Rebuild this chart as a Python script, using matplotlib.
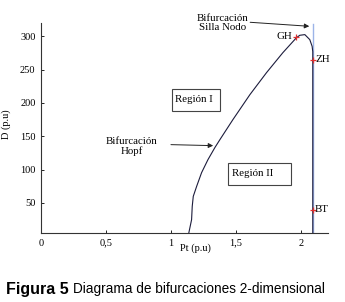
import matplotlib.pyplot as plt
from matplotlib.patches import Rectangle

plt.rcParams["font.family"] = ["Liberation Serif", "DejaVu Serif"]

# bifurcation curve (Hopf branch up to the saddle-node fold and back down)
pt_curve = [1.138, 1.159, 1.164, 1.172, 1.198, 1.236, 1.285, 1.338, 1.377, 1.477,
            1.608, 1.736, 1.862, 1.967, 1.992, 2.031, 2.069, 2.087, 2.092, 2.092, 2.092]
d_curve = [5.5, 25, 45, 60, 75, 95.5, 115, 133, 145, 175,
           212.5, 245.5, 275.5, 298, 301.5, 302.5, 295, 285, 277, 150, 5]

# saddle-node line
sn_pt = [2.095, 2.095]
sn_d = [5, 318]

# special points
pt_names = ["GH", "ZH", "BT"]
pt_x = [1.965, 2.09, 2.09]
pt_y = [299, 265, 40]

xticks = [0, 0.5, 1, 1.5, 2]
xticklabels = ["0", "0,5", "1", "1,5", "2"]
yticks = [50, 100, 150, 200, 250, 300]

fig = plt.figure(figsize=(3.45, 3.02), dpi=100)
ax = fig.add_axes([0.119, 0.2285, 0.832, 0.6955])

ax.plot(sn_pt, sn_d, color="#9db4e8", lw=1.0)
ax.plot(pt_curve, d_curve, color="#1c1c3c", lw=0.8)
ax.plot(pt_x, pt_y, "+", color="#e03030", ms=4, mew=0.9, ls="none")

ax.text(pt_x[0] - 0.03, pt_y[0], pt_names[0], ha="right", va="center", fontsize=7.8)
ax.text(pt_x[1] + 0.02, pt_y[1], pt_names[1], ha="left", va="center", fontsize=7.8)
ax.text(pt_x[2] + 0.02, pt_y[2], pt_names[2], ha="left", va="center", fontsize=7.8)

ax.set_xlim(0, 2.21)
ax.set_ylim(5, 320)
ax.set_xticks(xticks)
ax.set_xticklabels(xticklabels)
ax.set_yticks(yticks)
ax.tick_params(direction="in", length=2.5, width=0.6, labelsize=7.5, pad=4)
for s in ["top", "right"]:
    ax.spines[s].set_visible(False)
for s in ["left", "bottom"]:
    ax.spines[s].set_linewidth(0.8)
    ax.spines[s].set_color("#333333")

ax.set_ylabel("D (p.u)", fontsize=7.5)
ax.yaxis.set_label_coords(-0.105, 0.52)
ax.set_xlabel("Pt (p.u)", fontsize=7.5)
ax.xaxis.set_label_coords(0.538, -0.05)

# region boxes
ax.add_patch(Rectangle((1.008, 188.5), 0.369, 33, fill=False, lw=0.8, ec="#444444"))
ax.text(1.03, 205, "Región I", ha="left", va="center", fontsize=7.8)
ax.add_patch(Rectangle((1.438, 77.5), 0.485, 33, fill=False, lw=0.8, ec="#444444"))
ax.text(1.47, 94, "Región II", ha="left", va="center", fontsize=7.8)

# annotations
ax.text(1.396, 320.5, "Bifurcación\nSilla Nodo", ha="center", va="center",
        fontsize=7.8, linespacing=1.0, clip_on=False)
ax.annotate("", xy=(2.065, 315), xytext=(1.61, 321),
            arrowprops=dict(arrowstyle="-|>", color="#222222", lw=0.7,
                            mutation_scale=7, shrinkA=0, shrinkB=0),
            annotation_clip=False)
ax.text(0.70, 134.5, "Bifurcación\nHopf", ha="center", va="center",
        fontsize=7.8, linespacing=1.0)
ax.annotate("", xy=(1.325, 136), xytext=(1.0, 137.5),
            arrowprops=dict(arrowstyle="-|>", color="#222222", lw=0.7,
                            mutation_scale=7, shrinkA=0, shrinkB=0))

fig.text(0.018, 0.043, "Figura 5", fontsize=11.5, fontweight="bold",
         family="Liberation Sans", va="center", ha="left")
fig.text(0.213, 0.043, "Diagrama de bifurcaciones 2-dimensional", fontsize=9.8,
         family="Liberation Sans", va="center", ha="left")

plt.savefig("out.png", dpi=100)
